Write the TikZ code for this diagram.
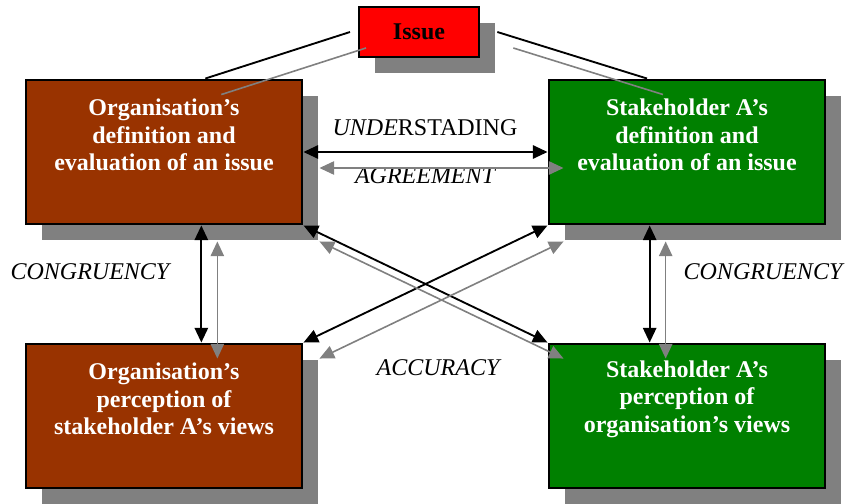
\documentclass[tikz,border=0pt]{standalone}
\usepackage{fontspec}
\setmainfont{Liberation Serif}
\usepackage{tikz}
\usetikzlibrary{arrows.meta}
\usetikzlibrary{shadows}

\definecolor{orgbrown}{HTML}{993300}
\definecolor{stkgreen}{HTML}{008000}
\definecolor{issuered}{HTML}{FF0000}
\definecolor{shadowgray}{HTML}{808080}

\tikzset{
  box/.style={draw=black, line width=2.2pt, minimum width=207pt, minimum height=108pt,
              drop shadow={shadow xshift=12pt, shadow yshift=-12pt, opacity=1, fill=shadowgray}},
  boxtext/.style={text=white, align=center, font=\fontsize{18}{20.5}\selectfont\bfseries},
  lbl/.style={font=\fontsize{18}{20.5}\selectfont\itshape},
  offs/.style={shift={(12pt,-12pt)}},
  link/.style={draw=black, line width=1.4pt},
  shline/.style={draw=shadowgray, line width=1.2pt},
  >={Triangle[length=11pt, width=10pt]}
}

\begin{document}
\begin{tikzpicture}[x=0.75pt, y=-0.75pt]
  \useasboundingbox (0,0) rectangle (845,503);

  \node[box, fill=orgbrown] (orgdef) at (164,152) {};
  \node[box, fill=stkgreen] (stkdef) at (687,152) {};
  \node[box, fill=orgbrown] (orgper) at (164,416) {};
  \node[box, fill=stkgreen] (stkper) at (687,416) {};
  \node[draw=black, line width=1.5pt, fill=issuered, minimum width=90pt, minimum height=37pt,
        drop shadow={shadow xshift=12pt, shadow yshift=-12pt, opacity=1, fill=shadowgray},
        font=\fontsize{18}{20.5}\selectfont\bfseries] (issue) at (419,32) {Issue};

  \node[boxtext] (orgdef-txt) at (164,135) {Organisation's\\definition and\\evaluation of an issue};
  \node[boxtext] (stkdef-txt) at (687,135) {Stakeholder A's\\definition and\\evaluation of an issue};
  \node[boxtext] (orgper-txt) at (164,399) {Organisation's\\perception of\\stakeholder A's views};
  \node[boxtext] (stkper-txt) at (687,399) {Stakeholder A's\\perception of\\organisation's views};

  \node[lbl] (understading) at (425,128) {\textit{UNDE}\upshape RSTADING};
  \node[lbl] (agreement) at (425,176) {AGREEMENT};
  \node[lbl] (congr-l) at (90,272) {CONGRUENCY};
  \node[lbl] (congr-r) at (763,272) {CONGRUENCY};
  \node[lbl] (accuracy) at (438,368) {ACCURACY};

  % lines to the issue
  \draw[link] ([xshift=31pt]orgdef.north) -- ([xshift=-6pt]issue.west);
  \draw[link] ([xshift=-30pt]stkdef.north) -- ([xshift=13pt]issue.east);
  \draw[shline] ([offs,xshift=31pt]orgdef.north) -- ([offs,xshift=-6pt]issue.west);
  \draw[shline] ([offs,xshift=-30pt]stkdef.north) -- ([offs,xshift=13pt]issue.east);

  % black connectors
  \draw[<->, link] (orgdef.east) -- (stkdef.west);
  \draw[<->, link] ([xshift=28pt]orgdef.south) -- ([xshift=28pt]orgper.north);
  \draw[<->, link] ([xshift=-28pt]stkdef.south) -- ([xshift=-28pt]stkper.north);
  \draw[<->, link] (orgdef.south east) -- (stkper.north west);
  \draw[<->, link] (orgper.north east) -- (stkdef.south west);

  % gray shadows of the connectors
  \draw[<->, shline, fill=shadowgray] ([offs]orgdef.east) -- ([offs]stkdef.west);
  \draw[<->, shline, fill=shadowgray] ([offs,xshift=28pt]orgdef.south) -- ([offs,xshift=28pt]orgper.north);
  \draw[<->, shline, fill=shadowgray] ([offs,xshift=-28pt]stkdef.south) -- ([offs,xshift=-28pt]stkper.north);
  \draw[<->, shline, fill=shadowgray] ([offs]orgdef.south east) -- ([offs]stkper.north west);
  \draw[<->, shline, fill=shadowgray] ([offs]orgper.north east) -- ([offs]stkdef.south west);
\end{tikzpicture}
\end{document}
